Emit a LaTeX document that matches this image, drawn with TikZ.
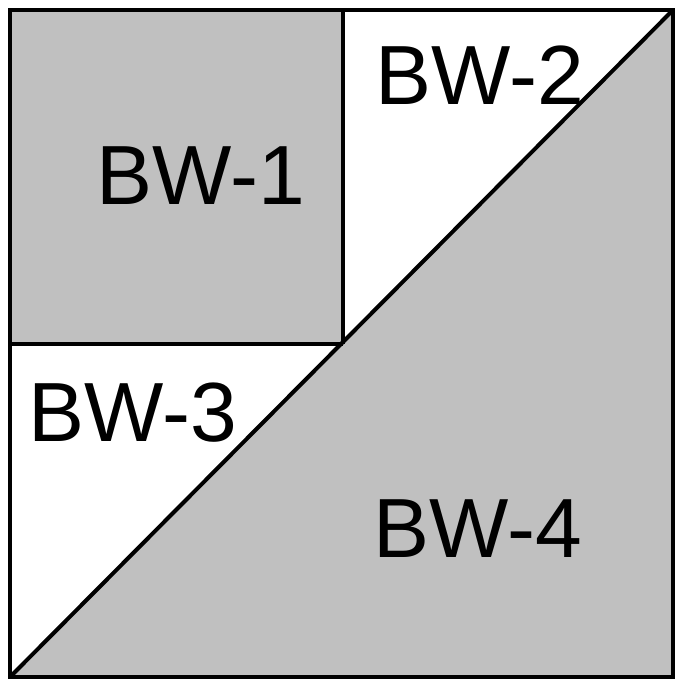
\documentclass[tikz,border=0pt]{standalone}
\usepackage{fontspec}
\setmainfont{Liberation Sans}
\definecolor{blockgray}{HTML}{C0C0C0}
\begin{document}
\begin{tikzpicture}[x=1pt,y=-1pt,
  edge/.style={line width=4pt,line join=miter},
  lbl/.style={font=\fontsize{84}{84}\selectfont,inner sep=0pt,anchor=center}]
\useasboundingbox (0,0) rectangle (674,679);
\coordinate (tl) at (10,10);
\coordinate (tr) at (673,10);
\coordinate (br) at (673,677);
\coordinate (bl) at (10,677);
\coordinate (tm) at (343,10);
\coordinate (c) at (343,344);
\coordinate (lm) at (10,344);
% fills
\fill[blockgray] (tl) -- (tm) -- (c) -- (lm) -- cycle;
\fill[blockgray] (bl) -- (tr) -- (br) -- cycle;
% lines
\draw[edge] (tl) rectangle (br);
\draw[edge] (bl) -- (tr);
\draw[edge] (tm) -- (c);
\draw[edge] (lm) -- (c);
% labels
\node[lbl] (bw1) at (201,176) {BW-1};
\node[lbl] (bw2) at (480,75) {BW-2};
\node[lbl] (bw3) at (133,413) {BW-3};
\node[lbl] (bw4) at (478,529) {BW-4};
\end{tikzpicture}
\end{document}
